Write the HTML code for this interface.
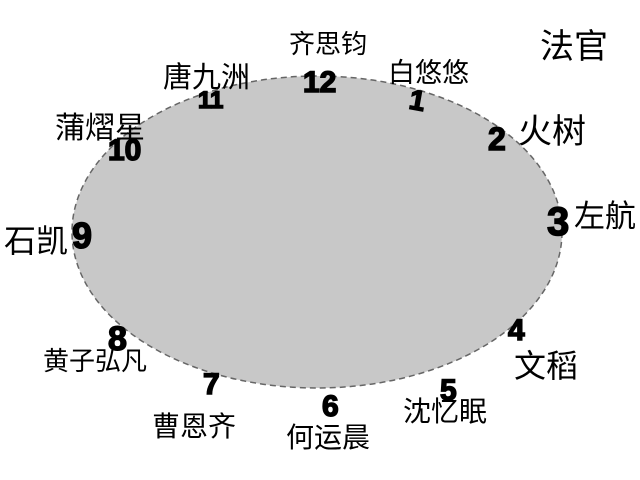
<!DOCTYPE html>
<html><head><meta charset="utf-8"><style>
html,body{margin:0;padding:0;background:#fff;}
svg{display:block;}
.l{font-family:"Liberation Sans","Noto Sans CJK SC",sans-serif;fill:#000;}
.n{font-family:"Liberation Sans",sans-serif;font-weight:bold;fill:#000;stroke:#000;stroke-width:1.5;}
</style></head><body>
<svg width="640" height="480" viewBox="0 0 640 480">
<ellipse cx="317" cy="232" rx="245" ry="156" fill="#c8c8c8" stroke="#666" stroke-width="1.5" stroke-dasharray="6,4"/>
<g class="l">
<text x="540" y="58" font-size="34">法官</text>
<text x="289" y="53" font-size="26">齐思钧</text>
<text x="388" y="82" font-size="27">白悠悠</text>
<text x="163" y="87" font-size="29">唐九洲</text>
<text x="55" y="138" font-size="30">蒲熠星</text>
<text x="518" y="143" font-size="34">火树</text>
<text x="574" y="227" font-size="31">左航</text>
<text x="4" y="252" font-size="32">石凯</text>
<text x="43" y="370" font-size="26">黄子弘凡</text>
<text x="514" y="377" font-size="32">文稻</text>
<text x="403" y="421" font-size="28">沈忆眠</text>
<text x="152" y="436" font-size="28">曹恩齐</text>
<text x="286" y="447" font-size="28">何运晨</text>
</g>
<g class="n">
<text x="303" y="92" font-size="30">12</text>
<text x="410" y="110" font-size="28" transform="rotate(10 418 98)">1</text>
<text x="488" y="150" font-size="32">2</text>
<text x="547" y="235" font-size="40">3</text>
<text x="508" y="340" font-size="30">4</text>
<text x="440" y="400" font-size="30">5</text>
<text x="322" y="416" font-size="30">6</text>
<text x="203" y="394" font-size="30">7</text>
<text x="108" y="350" font-size="34">8</text>
<text x="72" y="248" font-size="36">9</text>
<text x="108" y="160" font-size="30">10</text>
<text x="198" y="108" font-size="24">11</text>
</g>
</svg>
</body></html>
